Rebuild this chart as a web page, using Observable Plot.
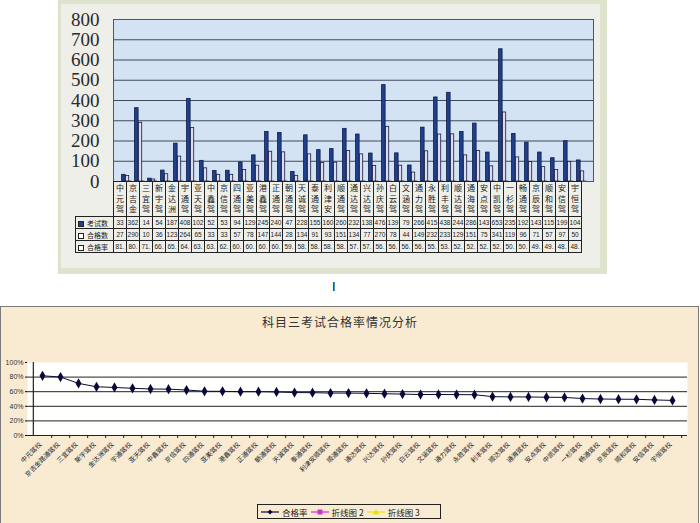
<!DOCTYPE html>
<html><head><meta charset="utf-8">
<script src="https://cdn.jsdelivr.net/npm/d3@7"></script>
<script src="https://cdn.jsdelivr.net/npm/@observablehq/plot@0.6"></script>
<style>
body{margin:0;background:#fff;width:700px;height:523px;overflow:hidden;position:relative;font-family:"Noto Sans CJK SC","Liberation Sans",sans-serif;}
.abs{position:absolute;}
#tf{left:58px;top:0;width:549px;height:274px;background:#dde3cd;}
#tfi{left:3px;top:4px;right:7px;bottom:6px;background:#efefea;}
#tbl{left:75px;top:181px;border-collapse:collapse;table-layout:fixed;}
#tbl td{border:1px solid #222;padding:0;text-align:center;overflow:hidden;white-space:nowrap;color:#222;}
#tbl td.blank{border:none;border-right:1px solid #222;}
#tbl td.hd{font-size:8px;line-height:10.5px;vertical-align:middle;}
#tbl td.num{font-size:6.5px;font-family:"Liberation Sans",sans-serif;height:11px;line-height:10px;}
#tbl td.lab{font-size:7px;text-align:left;padding-left:2px;}
.key{display:inline-block;width:4px;height:4px;border:1px solid #222;margin-right:3px;vertical-align:middle;}
#bf{left:0;top:306px;width:697px;height:220px;border:1px solid #7a7a7a;background:#f9ebd2;}
#title{left:0;top:313px;width:680px;text-align:center;font-size:12px;letter-spacing:1px;color:#333;}
#legend{left:257px;top:504px;width:182px;height:13px;border:1px solid #222;font-size:8.5px;color:#222;display:flex;align-items:center;white-space:nowrap;}
#legend .it{display:flex;align-items:center;margin-left:3px;}
#cursor{left:332px;top:279px;font-family:"Liberation Sans",sans-serif;font-size:13px;color:#000;}
</style></head><body>
<div id="tf" class="abs"><div id="tfi" class="abs"></div></div>
<div id="topwrap" class="abs" style="left:58px;top:0;"></div>
<table id="tbl" class="abs"></table>
<div id="cursor" class="abs">I</div>
<div id="bf" class="abs"></div>
<div id="title" class="abs">科目三考试合格率情况分析</div>
<div id="botwrap" class="abs" style="left:0;top:306px;"></div>
<div id="legend" class="abs"></div>
<script>
// ---- data ----
const schools = ["中元驾","京吉金","三宜驾","新宇驾","金达洲","宇通驾","亚天驾","中鑫驾","京信驾","四通驾","亚美驾","港鑫驾","正通驾","朝通驾","天诚驾","泰通驾","利津安","顺通驾","通达驾","兴达驾","孙庆驾","白云驾","文涵驾","通力驾","永胜驾","利丰驾","顺达驾","通海驾","安点驾","中凯驾","一杉驾","畅通驾","京辰驾","顺和驾","安信驾","宇恒驾"];
const schoolsFull = ["中元驾校","京吉金路通驾校","三宜驾校","新宇驾校","金达洲驾校","宇通驾校","亚天驾校","中鑫驾校","京信驾校","四通驾校","亚美驾校","港鑫驾校","正通驾校","朝通驾校","天诚驾校","泰通驾校","利津安顺驾校","顺通驾校","通达驾校","兴达驾校","孙庆驾校","白云驾校","文涵驾校","通力驾校","永胜驾校","利丰驾校","顺达驾校","通海驾校","安点驾校","中凯驾校","一杉驾校","畅通驾校","京辰驾校","顺和驾校","安信驾校","宇恒驾校"];
const examCount = [33,362,14,54,187,408,102,52,53,94,129,245,240,47,228,155,160,260,232,138,476,139,79,266,415,438,244,286,143,653,235,192,143,115,199,104];
const passCount = [27,290,10,36,123,264,65,33,33,57,78,147,144,28,134,91,93,151,134,77,270,78,44,149,232,233,129,151,75,341,119,96,71,57,97,50];
const passRate = [81.8,80.1,71.4,66.7,65.8,64.7,63.7,63.5,62.3,60.6,60.5,60.0,60.0,59.6,58.8,58.7,58.1,58.1,57.8,57.2,56.7,56.1,56.2,56.0,55.9,53.2,52.9,52.8,52.4,52.2,50.6,50.0,49.7,49.6,48.7,48.1];
const yTicksTop = [0,100,200,300,400,500,600,700,800];
const yTicksBottom = [0,0.2,0.4,0.6,0.8,1];
const seriesNames = ["考试数","合格数","合格率"];
const legendNames = ["合格率","折线图 2","折线图 3"];

const rows = schools.map((s,i)=>({school:s, full:schoolsFull[i], exam:examCount[i], pass:passCount[i], rate:passRate[i]}));

// ---- top bar chart ----
const topChart = Plot.plot({
  width:549, height:183, marginLeft:55, marginRight:14, marginTop:19, marginBottom:2,
  style:{background:"transparent", overflow:"visible", fontFamily:"Liberation Serif, serif", fontSize:"19px"},
  x:{type:"band", domain:schools, paddingInner:0, paddingOuter:0, axis:null, label:null},
  y:{domain:[0,800], axis:null, label:null},
  marks:[
    Plot.frame({fill:"#d3e3f3", stroke:null}),
    Plot.gridY(yTicksTop.slice(1), {stroke:"#3e4b5e", strokeOpacity:1, strokeWidth:1.2}),
    Plot.axisY(yTicksTop, {tickSize:0, tickPadding:14, fill:"#2a2a2a", label:null}),
    Plot.barY(rows, {x:"school", y:"exam", fill:"#20408e", stroke:"#0b1a44", strokeWidth:0.8, insetLeft:2.6, insetRight:6.9}),
    Plot.barY(rows, {x:"school", y:"pass", fill:"#dcdcf0", stroke:"#1a1a3a", strokeWidth:0.8, insetLeft:6.5, insetRight:3.3}),
    Plot.barY(rows, {x:"school", y:d=>d.rate/100, fill:"#ffffff", stroke:"#222", strokeWidth:0.5, insetLeft:10, insetRight:0.8}),
    Plot.frame({stroke:"#555", fill:null})
  ]
});
document.getElementById("topwrap").appendChild(topChart);

// ---- data table under top chart ----
let bw = 480/36;
try { const sx = topChart.scale("x"); if (sx && sx.bandwidth) bw = sx.bandwidth; } catch(e) {}
const tbl = document.getElementById("tbl");
let html = `<colgroup><col style="width:38px">${schools.map(()=>`<col style="width:${bw}px">`).join("")}</colgroup>`;
html += `<tr style="height:35px"><td class="blank"></td>${schools.map(s=>`<td class="hd">${[...s].join("<br>")}</td>`).join("")}</tr>`;
const tableSeries = [
  {name:seriesNames[0], key:"#20408e", vals:examCount.map(String)},
  {name:seriesNames[1], key:"#ffffff", vals:passCount.map(String)},
  {name:seriesNames[2], key:"#ffffff", vals:passRate.map(v=>Math.floor(v)+".")}
];
for (const s of tableSeries) {
  html += `<tr><td class="lab num" style="font-size:7px;font-family:'Noto Sans CJK SC'"><span class="key" style="background:${s.key}"></span>${s.name}</td>${s.vals.map(v=>`<td class="num">${v}</td>`).join("")}</tr>`;
}
tbl.innerHTML = html;
tbl.style.width = (38 + bw*36) + "px";

// ---- bottom line chart ----
function bottomBw(){ return (700-27-13)/36; }
const bottomChart = Plot.plot({
  width:700, height:217, marginLeft:27, marginRight:13, marginTop:56, marginBottom:88,
  style:{background:"transparent", overflow:"visible", fontFamily:"Noto Sans CJK SC, sans-serif", fontSize:"6.5px"},
  x:{type:"band", domain:schoolsFull, paddingInner:0, paddingOuter:0, axis:null, label:null},
  y:{domain:[0,1], axis:null, label:null},
  marks:[
    Plot.frame({fill:"#fffffd", stroke:null}),
    Plot.gridY([0.2,0.4,0.6,0.8], {stroke:"#222", strokeOpacity:1, strokeWidth:1}),
    Plot.ruleY([0], {stroke:"#222", strokeWidth:1.2}),
    Plot.ruleX(schoolsFull.slice(0,1), {stroke:"#222", strokeWidth:1.2, dx:-bottomBw()/2}),
    Plot.axisY(yTicksBottom, {tickSize:2, tickPadding:2, tickFormat:d=>Math.round(d*100)+"%", fill:"#333", fontFamily:"Liberation Sans, sans-serif", fontSize:7, label:null}),
    Plot.axisX(schoolsFull, {tickSize:0, tickRotate:-45, tickPadding:8, dx:-2, fill:"#222", label:null}),
    Plot.axisX(schoolsFull, {tickSize:3, tickFormat:()=>"", dx:bottomBw()/2, stroke:"#222", label:null}),
    Plot.line(rows, {x:"full", y:d=>d.rate/100, stroke:"#0a0a3a", strokeWidth:1}),
    Plot.dot(rows, {x:"full", y:d=>d.rate/100, symbol:"diamond", fill:"#0a0a3a", stroke:"#0a0a3a", r:2.2})
  ]
});
document.getElementById("botwrap").appendChild(bottomChart);

// ---- legend ----
const legendStyles = [
  {color:"#0a0a3a", shape:"diamond"},
  {color:"#cc33cc", shape:"square"},
  {color:"#e6e600", shape:"triangle"}
];
const leg = document.getElementById("legend");
leg.innerHTML = legendNames.map((n,i)=>{
  const c = legendStyles[i].color, sh = legendStyles[i].shape;
  let m = sh==="diamond" ? `<path d="M9,2.5 L11.5,5 L9,7.5 L6.5,5Z" fill="${c}"/>`
        : sh==="square" ? `<rect x="6.5" y="2.5" width="5" height="5" fill="${c}"/>`
        : `<path d="M9,2 L12,7.5 L6,7.5Z" fill="${c}"/>`;
  return `<span class="it"><svg width="18" height="10"><line x1="0" y1="5" x2="18" y2="5" stroke="${c}" stroke-width="1.2"/>${m}</svg><span style="margin-left:3px">${n}</span></span>`;
}).join("");
</script>
</body></html>
